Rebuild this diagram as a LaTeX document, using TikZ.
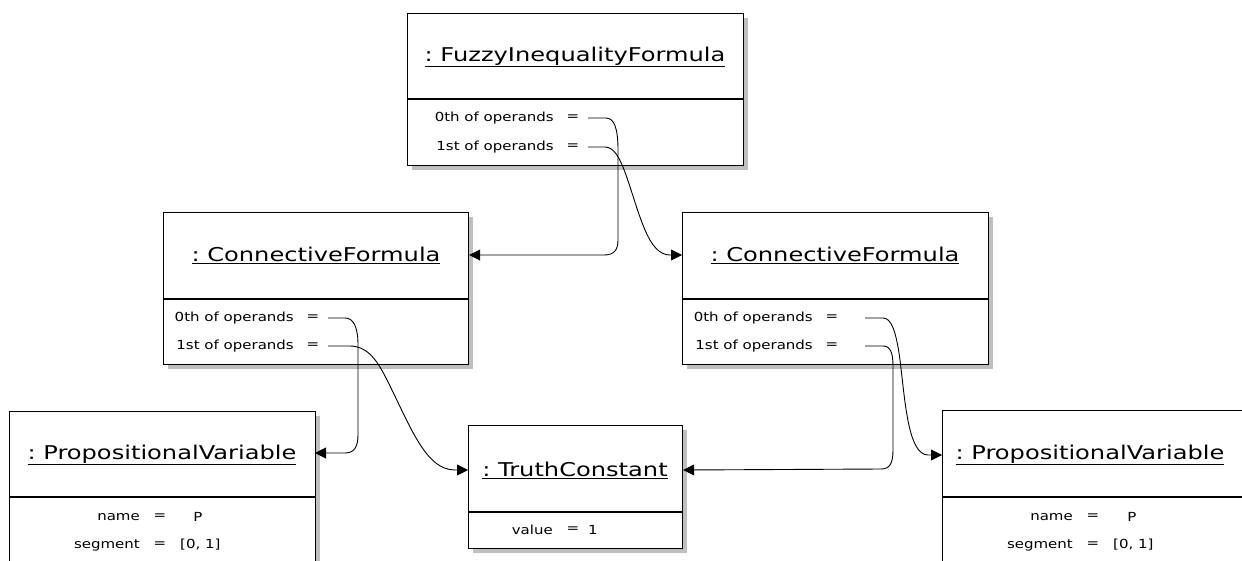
\documentclass[tikz,border=0pt]{standalone}
\usepackage{fontspec}
\setmainfont{DejaVu Sans}
\newfontfamily\titlefont[FakeStretch=1.27]{DejaVu Sans}
\newfontfamily\slotfont[FakeStretch=1.2]{DejaVu Sans}
\usetikzlibrary{arrows.meta}
\tikzset{
  objbox/.style={draw=black, line width=1.2pt, fill=white, rectangle, inner sep=0pt, anchor=north west},
  objshadow/.style={fill=black!25, draw=none},
  divider/.style={draw=black, line width=1.2pt},
  objtitle/.style={inner sep=0pt, font=\titlefont\fontsize{19}{22}\selectfont},
  attr/.style={inner sep=0pt, font=\slotfont\fontsize{12.5}{15}\selectfont},
  link/.style={draw=black, line width=0.9pt, -{Triangle[length=11pt,width=11pt]}},
}
% object box: name, left, top, right, bottom, divider
\newcommand{\objectbox}[6]{%
  \fill[objshadow] (#2+5,#3+5) rectangle (#4+5,#5+5);
  \node[objbox, minimum width=#4-#2, minimum height=#5-#3] (#1) at (#2,#3) {};
  \draw[divider] (#2,#6) -- (#4,#6);
}
\begin{document}
\begin{tikzpicture}[x=1pt, y=-1pt]
\useasboundingbox (0,0) rectangle (1242,560);
\clip (0,0) rectangle (1242,560);
\fill[white] (0,0) rectangle (1242,560);

% boxes
\objectbox{fie}{407}{13}{743}{165}{99}
\objectbox{cfl}{163}{212}{468}{364}{299}
\objectbox{cfr}{682}{212}{988}{364}{299}
\objectbox{pvl}{9}{411}{315}{600}{497}
\objectbox{tc}{468}{425}{682}{548}{512}
\objectbox{pvr}{942}{410}{1260}{600}{497}

% titles
\node[objtitle] (fiet) at (575,57) {\underline{:\ FuzzyInequalityFormula}};
\node[objtitle] (cflt) at (316,255) {\underline{:\ ConnectiveFormula}};
\node[objtitle] (cfrt) at (835,255) {\underline{:\ ConnectiveFormula}};
\node[objtitle] (pvlt) at (162,455) {\underline{:\ PropositionalVariable}};
\node[objtitle] (tct) at (575,470) {\underline{:\ TruthConstant}};
\node[objtitle] (pvrt) at (1090,455) {\underline{:\ PropositionalVariable}};

% FuzzyInequalityFormula slots
\node[attr, anchor=east] (fiea) at (554,118) {0th of operands};
\node[attr] (fieaeq) at (573,118) {=};
\node[attr, anchor=east] (fieb) at (554,147) {1st of operands};
\node[attr] (fiebeq) at (573,147) {=};
\coordinate (fie0) at (588,118);
\coordinate (fie1) at (588,147);

% left ConnectiveFormula slots
\node[attr, anchor=east] (cfla) at (294,318) {0th of operands};
\node[attr] (cflaeq) at (313,318) {=};
\node[attr, anchor=east] (cflb) at (294,346) {1st of operands};
\node[attr] (cflbeq) at (313,346) {=};
\coordinate (cfl0) at (328,318);
\coordinate (cfl1) at (328,346);

% right ConnectiveFormula slots
\node[attr, anchor=east] (cfra) at (813,318) {0th of operands};
\node[attr] (cfraeq) at (832,318) {=};
\node[attr, anchor=east] (cfrb) at (813,346) {1st of operands};
\node[attr] (cfrbeq) at (832,346) {=};
\coordinate (cfr0) at (865,318);
\coordinate (cfr1) at (865,346);

% left PropositionalVariable slots
\node[attr, anchor=east] (pvln) at (140,517) {name};
\node[attr] (pvlneq) at (160,517) {=};
\node[attr] (pvlnv) at (198,517) {P};
\node[attr, anchor=east] (pvls) at (140,545) {segment};
\node[attr] (pvlseq) at (160,545) {=};
\node[attr, anchor=west] (pvlsv) at (180,545) {[0, 1]};

% TruthConstant slot
\node[attr, anchor=east] (tcv) at (553,530) {value};
\node[attr] (tcveq) at (573,530) {=};
\node[attr] (tcvv) at (593,530) {1};

% right PropositionalVariable slots
\node[attr, anchor=east] (pvrn) at (1073,517) {name};
\node[attr] (pvrneq) at (1093,517) {=};
\node[attr] (pvrnv) at (1132,517) {P};
\node[attr, anchor=east] (pvrs) at (1073,545) {segment};
\node[attr] (pvrseq) at (1093,545) {=};
\node[attr, anchor=west] (pvrsv) at (1113,545) {[0, 1]};

% arrow targets on the box edges
\coordinate (cflin) at (cfl.north east |- cflt);
\coordinate (cfrin) at (cfr.north west |- cfrt);
\coordinate (pvlin) at (315,453);
\coordinate (pvrin) at (942,455);
\coordinate (tcinl) at (tc.north west |- tct);
\coordinate (tcinr) at (tc.north east |- tct);

% links
\draw[link] (fie0) -- ++(18,0) .. controls (614,118) and (618,128) .. (618,150)
  -- (618,240) .. controls (618,250) and (614,255) .. (604,255) -- (cflin);
\draw[link] (fie1) -- ++(17,0) .. controls (614,147) and (620,158) .. (626,175)
  .. controls (640,215) and (648,255) .. (670,255) -- (cfrin);
\draw[link] (cfl0) -- ++(17,0) .. controls (353,318) and (358,326) .. (358,345)
  -- (358,435) .. controls (358,447) and (354,453) .. (345,453) -- (pvlin);
\draw[link] (cfl1) -- ++(22,0) .. controls (366,346) and (376,358) .. (386,378)
  .. controls (410,425) and (425,470) .. (455,470) -- (tcinl);
\draw[link] (cfr0) -- ++(18,0) .. controls (891,318) and (896,330) .. (900,360)
  .. controls (905,400) and (908,455) .. (928,455) -- (pvrin);
\draw[link] (cfr1) -- ++(18,0) .. controls (890,346) and (893,352) .. (893,366)
  -- (893,450) .. controls (893,463) and (890,469) .. (881,469) -- (tcinr);
\end{tikzpicture}
\end{document}
